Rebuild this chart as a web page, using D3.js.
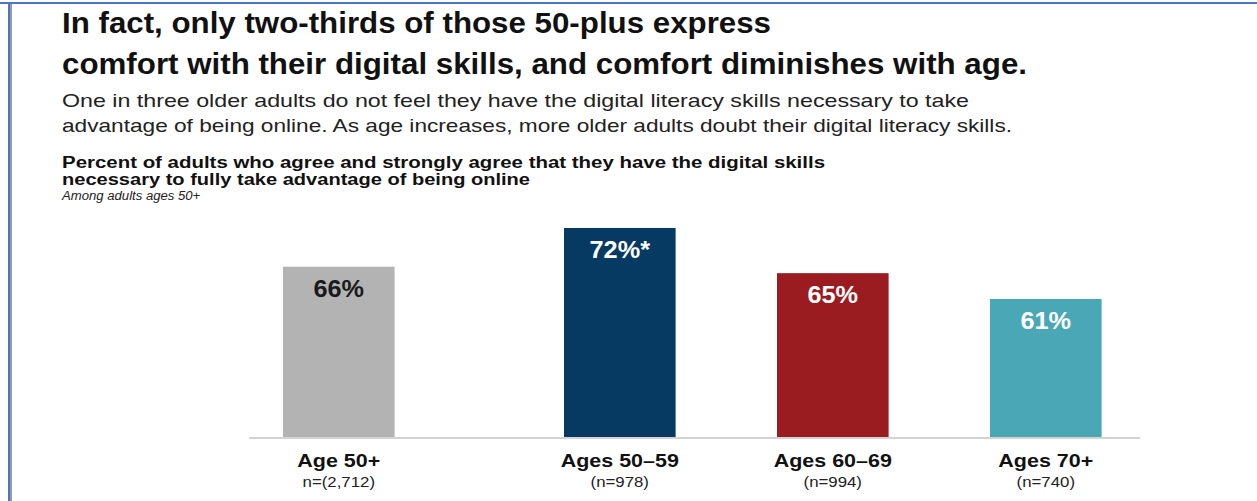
<!DOCTYPE html>
<html>
<head>
<meta charset="utf-8">
<script src="https://cdn.jsdelivr.net/npm/d3@7"></script>
<style>
  html, body { margin: 0; padding: 0; background: #fff; }
  svg text { font-family: "Liberation Sans", Arial, Helvetica, sans-serif; }
</style>
</head>
<body>
<div id="chart"></div>
<script>
// chart data
const categories = ['Age 50+', 'Ages 50\u201359', 'Ages 60\u201369', 'Ages 70+'];
const sampleSizes = ['n=(2,712)', '(n=978)', '(n=994)', '(n=740)'];
const values = [66, 72, 65, 61];
const valueLabels = ['66%', '72%*', '65%', '61%'];
const barColors = ['#b3b3b3', '#063a62', '#9a1c21', '#4aa7b5'];
const labelColors = ['#1a1a1a', '#ffffff', '#ffffff', '#ffffff'];

const titleLines = ['In fact, only two-thirds of those 50-plus express',
                    'comfort with their digital skills, and comfort diminishes with age.'];
const subtitleLines = ['One in three older adults do not feel they have the digital literacy skills necessary to take',
                       'advantage of being online. As age increases, more older adults doubt their digital literacy skills.'];
const questionLines = ['Percent of adults who agree and strongly agree that they have the digital skills',
                       'necessary to fully take advantage of being online'];
const baseNote = 'Among adults ages 50+';

const width = 1257, height = 501;
const baseY = 437;
const stretch = 1.2; // source image is horizontally stretched

const svg = d3.select('#chart').append('svg')
    .attr('width', width)
    .attr('height', height);

// frame lines (blue top and left edge)
svg.append('rect').attr('x', 0).attr('y', 2).attr('width', width).attr('height', 2).attr('fill', '#4a76c8');
svg.append('rect').attr('x', 8).attr('y', 2).attr('width', 2).attr('height', height).attr('fill', '#4a76c8');
svg.append('rect').attr('x', 10).attr('y', 4).attr('width', 2).attr('height', height).attr('fill', '#9a9a9a');

// helper: add text, optionally forcing a width
function addText(txt, x, y, size, weight, opts) {
    opts = opts || {};
    const t = svg.append('text')
        .text(txt)
        .attr('x', x)
        .attr('y', y)
        .attr('font-size', size)
        .attr('font-weight', weight)
        .attr('font-style', opts.italic ? 'italic' : 'normal')
        .attr('text-anchor', opts.anchor || 'start')
        .attr('fill', opts.fill || '#111');
    let len = opts.width || t.node().getComputedTextLength() * (opts.stretch || stretch);
    t.attr('textLength', len).attr('lengthAdjust', 'spacingAndGlyphs');
    return t;
}

// headings
addText(titleLines[0], 62, 33, 29, 'bold', {width: 709});
addText(titleLines[1], 62, 74, 29, 'bold', {width: 965});
addText(subtitleLines[0], 62, 107, 18.5, 'normal', {width: 907, fill: '#222'});
addText(subtitleLines[1], 62, 132, 18.5, 'normal', {width: 950, fill: '#222'});
addText(questionLines[0], 62, 168, 16, 'bold', {width: 763});
addText(questionLines[1], 62, 185, 16, 'bold', {width: 468});
addText(baseNote, 62, 200, 12.5, 'normal', {italic: true, fill: '#222', stretch: 1.05});

// scales
const x = d3.scaleBand()
    .domain(categories)
    .range([249.6, 1203])
    .paddingInner(0.476)
    .paddingOuter(0.476);
const firstGap = 68; // total bar sits further left than the age bars
const xPos = (d, i) => x(d) - (i === 0 ? firstGap : 0);

const y = d3.scaleLinear()
    .domain([39.6, 72])
    .range([baseY, 228]);

// bars
svg.selectAll('.bar')
    .data(categories)
    .enter().append('rect')
    .attr('class', 'bar')
    .attr('x', (d, i) => xPos(d, i))
    .attr('y', (d, i) => y(values[i]))
    .attr('width', x.bandwidth())
    .attr('height', (d, i) => baseY - y(values[i]))
    .attr('fill', (d, i) => barColors[i]);

// baseline
svg.append('line')
    .attr('x1', 249).attr('x2', 1140)
    .attr('y1', baseY + 1).attr('y2', baseY + 1)
    .attr('stroke', '#d3d3d3')
    .attr('stroke-width', 2);

// value labels, category labels and sample sizes
categories.forEach((d, i) => {
    const cx = xPos(d, i) + x.bandwidth() / 2;
    addText(valueLabels[i], cx, y(values[i]) + 30, 23, 'bold', {anchor: 'middle', fill: labelColors[i], stretch: 1.1});
    addText(d, cx, 467, 18.5, 'bold', {anchor: 'middle', stretch: 1.16});
    addText(sampleSizes[i], cx, 487, 14, 'normal', {anchor: 'middle', fill: '#222'});
});
</script>
</body>
</html>
